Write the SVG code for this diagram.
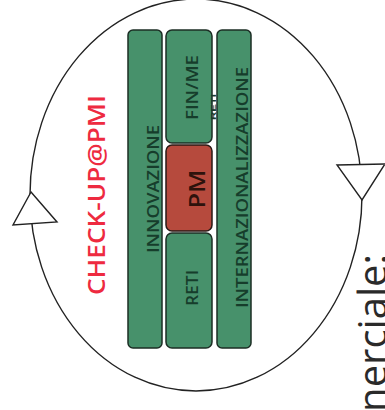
<svg xmlns="http://www.w3.org/2000/svg" width="385" height="410" viewBox="0 0 385 410">
<style>
.bar{fill:#47916b;stroke:#1c2e25;stroke-width:1.5}
.pm{fill:#b64a3d;stroke:#2a1a16;stroke-width:1.5}
.lbl{font-family:"Open Sans","Liberation Sans",sans-serif;font-size:17px;font-weight:600;fill:#163d2b;text-anchor:middle}
.conn{fill:none;stroke:#222;stroke-width:1.4}
.head{fill:#fff;stroke:#222;stroke-width:1.4;stroke-linejoin:miter}
</style>
<rect width="385" height="410" fill="#fff"/>
<g id="connectors">
<ellipse class="conn" cx="196" cy="195" rx="166" ry="196"/>
<polygon class="head" points="31,192 13,225 57,222"/>
<polygon class="head" points="337,165 385,164 362,200"/>
</g>
<g id="check-up">
<text transform="translate(105,195) rotate(-90)" font-family="Open Sans, Liberation Sans, sans-serif" font-size="24" font-weight="600" fill="#ee2a40" text-anchor="middle" textLength="200" lengthAdjust="spacingAndGlyphs">CHECK-UP@PMI</text>
</g>
<g id="innovazione">
<rect class="bar" x="128" y="30" width="34" height="318" rx="5"/>
<text class="lbl" transform="translate(159,189) rotate(-90)" textLength="128" lengthAdjust="spacingAndGlyphs">INNOVAZIONE</text>
</g>
<g id="finme">
<rect class="bar" x="166" y="30" width="46" height="113" rx="6"/>
<text class="lbl" transform="translate(198,87.5) rotate(-90)" textLength="65" lengthAdjust="spacingAndGlyphs">FIN/ME</text>
<text transform="translate(216,107) rotate(-90)" font-family="Liberation Sans, sans-serif" font-size="7" font-weight="bold" fill="#1b3a2c" text-anchor="middle" textLength="26" lengthAdjust="spacingAndGlyphs">RETI</text>
</g>
<g id="pm">
<rect class="pm" x="166" y="145" width="46" height="86" rx="6"/>
<text transform="translate(205,189) rotate(-90)" font-family="Open Sans, Liberation Sans, sans-serif" font-size="22" font-weight="600" fill="#2e120c" text-anchor="middle" textLength="39" lengthAdjust="spacingAndGlyphs">PM</text>
</g>
<g id="reti">
<rect class="bar" x="166" y="233" width="46" height="115" rx="6"/>
<text class="lbl" transform="translate(198,288) rotate(-90)" textLength="36" lengthAdjust="spacingAndGlyphs">RETI</text>
</g>
<g id="internazionalizzazione">
<rect class="bar" x="217" y="30" width="34" height="318" rx="5"/>
<text class="lbl" transform="translate(248,187.5) rotate(-90)" textLength="241" lengthAdjust="spacingAndGlyphs">INTERNAZIONALIZZAZIONE</text>
</g>
<g id="commerciale">
<text transform="translate(387,254) rotate(-90)" font-family="Open Sans, Liberation Sans, sans-serif" font-size="40" fill="#2a2a2a" text-anchor="end">nerciale:</text>
</g>
</svg>
